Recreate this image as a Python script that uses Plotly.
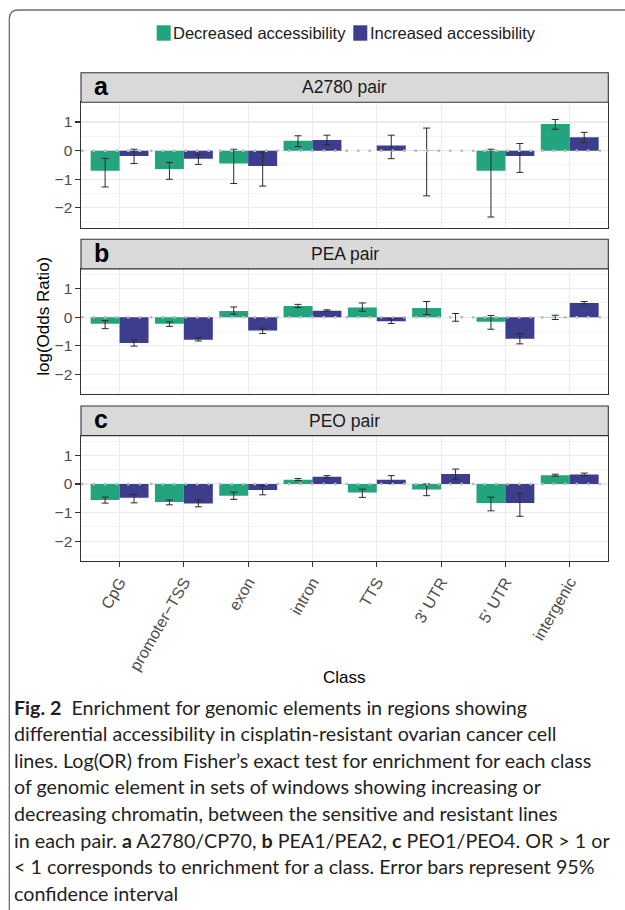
import plotly.graph_objects as go

# ---------------- data ----------------
categories = ["CpG", "promoter-TSS", "exon", "intron", "TTS", "3' UTR", "5' UTR", "intergenic"]
tick_labels = ["CpG", "promoter\u2212TSS", "exon", "intron", "TTS", "3' UTR", "5' UTR", "intergenic"]
series_names = ["Decreased accessibility", "Increased accessibility"]
panel_titles = ["A2780 pair", "PEA pair", "PEO pair"]
panel_letters = ["a", "b", "c"]

a2780_dec = [-0.70, -0.64, -0.45, 0.35, None, -0.01, -0.70, 0.93]
a2780_dec_lo = [-1.27, -1.00, -1.15, 0.14, None, -1.58, -2.32, 0.75]
a2780_dec_hi = [-0.27, -0.41, 0.05, 0.52, None, 0.79, 0.05, 1.09]
a2780_inc = [-0.19, -0.28, -0.54, 0.375, 0.18, None, -0.19, 0.47]
a2780_inc_lo = [-0.45, -0.48, -1.24, 0.21, -0.28, None, -0.76, 0.28]
a2780_inc_hi = [0.05, -0.13, -0.05, 0.54, 0.54, None, 0.25, 0.64]

pea_dec = [-0.23, -0.23, 0.22, 0.39, 0.34, 0.32, -0.16, -0.01]
pea_dec_lo = [-0.40, -0.32, 0.11, 0.34, 0.21, 0.09, -0.42, -0.08]
pea_dec_hi = [-0.12, -0.16, 0.36, 0.45, 0.50, 0.55, 0.06, 0.07]
pea_inc = [-0.90, -0.79, -0.46, 0.23, -0.14, 0.0, -0.75, 0.50]
pea_inc_lo = [-1.01, -0.83, -0.57, 0.21, -0.22, -0.14, -0.93, 0.47]
pea_inc_hi = [-0.79, -0.72, -0.38, 0.26, -0.05, 0.13, -0.57, 0.55]

peo_dec = [-0.56, -0.63, -0.41, 0.15, -0.30, -0.19, -0.67, 0.30]
peo_dec_lo = [-0.67, -0.73, -0.54, 0.12, -0.47, -0.41, -0.94, 0.27]
peo_dec_hi = [-0.46, -0.56, -0.29, 0.19, -0.18, 0.00, -0.46, 0.34]
peo_inc = [-0.48, -0.68, -0.21, 0.25, 0.15, 0.35, -0.67, 0.33]
peo_inc_lo = [-0.66, -0.80, -0.38, 0.21, 0.01, 0.16, -1.13, 0.29]
peo_inc_hi = [-0.36, -0.56, -0.07, 0.29, 0.29, 0.52, -0.33, 0.38]

y_tick_vals = [-2, -1, 0, 1]
y_minor_vals = [-2.5, -1.5, -0.5, 0.5, 1.5]

caption_lines = [
    "<b>Fig. 2</b>\u00a0\u00a0Enrichment for genomic elements in regions showing",
    "differential accessibility in cisplatin-resistant ovarian cancer cell",
    "lines. Log(OR) from Fisher\u2019s exact test for enrichment for each class",
    "of genomic element in sets of windows showing increasing or",
    "decreasing chromatin, between the sensitive and resistant lines",
    "in each pair. <b>a</b> A2780/CP70, <b>b</b> PEA1/PEA2, <b>c</b> PEO1/PEO4. OR &gt; 1 or",
    "&lt; 1 corresponds to enrichment for a class. Error bars represent 95%",
    "confidence interval",
]

panels = [
    (a2780_dec, a2780_dec_lo, a2780_dec_hi, a2780_inc, a2780_inc_lo, a2780_inc_hi),
    (pea_dec, pea_dec_lo, pea_dec_hi, pea_inc, pea_inc_lo, pea_inc_hi),
    (peo_dec, peo_dec_lo, peo_dec_hi, peo_inc, peo_inc_lo, peo_inc_hi),
]

# ---------------- styling / layout helpers ----------------
W, H = 625, 910
GREEN = "#23a47f"
PURPLE = "#3c3d8c"
FONT = "Liberation Sans, Arial, sans-serif"
CAP_FONT = "Lato, Noto Sans, sans-serif"


def px(p):
    return p / W


def py(p):
    return 1 - p / H


X_L, X_R = 81.0, 608.3
strip_tops = [72.7, 239.3, 406.0]
STRIP_H = 29.6
PLOT_H = 125.3
Y_RANGE = [-2.69, 1.69]


def err(v, lo, hi):
    plus = [None if a is None else b - a for a, b in zip(v, hi)]
    minus = [None if a is None else a - b for a, b in zip(v, lo)]
    return plus, minus


fig = go.Figure()
shapes = []
annotations = []

for i, (dv, dlo, dhi, iv, ilo, ihi) in enumerate(panels):
    sfx = "" if i == 0 else str(i + 1)
    xa, ya = "x" + sfx, "y" + sfx
    for name, vals, lo, hi, col in [
        (series_names[0], dv, dlo, dhi, GREEN),
        (series_names[1], iv, ilo, ihi, PURPLE),
    ]:
        plus, minus = err(vals, lo, hi)
        fig.add_trace(go.Bar(
            x=categories, y=vals, name=name, marker=dict(color=col, line=dict(width=0)),
            error_y=dict(type="data", symmetric=False, array=plus, arrayminus=minus,
                         color="#2b2b2b", thickness=1, width=3.5),
            xaxis=xa, yaxis=ya, showlegend=False, offsetgroup=name,
        ))

    top = strip_tops[i] + STRIP_H
    bot = top + PLOT_H
    last = i == 2
    fig.update_layout(**{
        ("xaxis" + sfx): dict(
            domain=[px(X_L), px(X_R)], anchor=ya, type="category",
            categoryorder="array", categoryarray=categories,
            range=[-0.6, 7.6], showgrid=True, gridcolor="#ebebeb", gridwidth=1.1,
            showline=True, linecolor="#333333", linewidth=1.1, mirror=True,
            ticks="outside" if last else "", ticklen=4.5, tickcolor="#333333",
            tickwidth=1.1, showticklabels=last, tickvals=categories,
            ticktext=tick_labels, tickangle=-60,
            tickfont=dict(family=FONT, size=16, color="#4d4d4d"),
            zeroline=False, fixedrange=True,
            matches=None if i == 0 else "x",
        ),
        ("yaxis" + sfx): dict(
            domain=[py(bot), py(top)], anchor=xa, range=Y_RANGE,
            tickvals=y_tick_vals, showgrid=True, gridcolor="#ebebeb", gridwidth=1.1,
            minor=dict(tickvals=y_minor_vals, showgrid=True, gridcolor="#f1f1f1",
                       gridwidth=0.8, ticks=""),
            showline=True, linecolor="#333333", linewidth=1.1, mirror=True,
            ticks="outside", ticklen=4.5, tickcolor="#333333", tickwidth=1.1,
            tickfont=dict(family=FONT, size=15.5, color="#4d4d4d"),
            zeroline=False, fixedrange=True,
        ),
    })

    # strip
    shapes.append(dict(type="rect", xref="paper", yref="paper",
                       x0=px(X_L), x1=px(X_R), y0=py(top), y1=py(strip_tops[i]),
                       fillcolor="#d9d9d9", line=dict(color="#333333", width=1.1),
                       layer="above"))
    annotations.append(dict(xref="paper", yref="paper", x=px((X_L + X_R) / 2),
                            y=py(strip_tops[i] + STRIP_H / 2), text=panel_titles[i],
                            showarrow=False, xanchor="center", yanchor="middle",
                            font=dict(family=FONT, size=17.5, color="#1a1a1a")))
    annotations.append(dict(xref="paper", yref="paper", x=px(92),
                            y=py(strip_tops[i] + STRIP_H / 2 - 1.5), text="<b>%s</b>" % panel_letters[i],
                            showarrow=False, xanchor="left", yanchor="middle",
                            font=dict(family=FONT, size=25, color="#000000")))
    # dotted zero line
    shapes.append(dict(type="line", xref="paper", yref=ya, x0=px(X_L), x1=px(X_R),
                       y0=0, y1=0, line=dict(color="#bdbdbd", width=2.5, dash="2.5px,9px"),
                       layer="above"))

# legend (manual)
leg = [(156.7, series_names[0], GREEN), (353.3, series_names[1], PURPLE)]
for x0, name, col in leg:
    shapes.append(dict(type="rect", xref="paper", yref="paper",
                       x0=px(x0), x1=px(x0 + 14), y0=py(40.7), y1=py(25.3),
                       fillcolor=col, line=dict(width=0)))
    annotations.append(dict(xref="paper", yref="paper", x=px(x0 + 14.5), y=py(33.5),
                            text=name, showarrow=False, xanchor="left", yanchor="middle",
                            font=dict(family=FONT, size=16.5, color="#1a1a1a")))

# axis titles
annotations.append(dict(xref="paper", yref="paper", x=px(44), y=py(316.8),
                        text="log(Odds Ratio)", textangle=-90, showarrow=False,
                        xanchor="center", yanchor="middle",
                        font=dict(family=FONT, size=17, color="#000000")))
annotations.append(dict(xref="paper", yref="paper", x=px(344.7), y=py(677),
                        text="Class", showarrow=False, xanchor="center", yanchor="middle",
                        font=dict(family=FONT, size=17, color="#000000")))

# caption
for k, line in enumerate(caption_lines):
    annotations.append(dict(xref="paper", yref="paper", x=px(12), y=py(707 + k * 26.6),
                            text=line, showarrow=False, xanchor="left", yanchor="middle",
                            align="left", font=dict(family=CAP_FONT, size=19.7, color="#231f20")))

# page frame with rounded corner
r = 9.0
fx, fy = 9.3, 10.0
path = ("M %f,%f L %f,%f Q %f,%f %f,%f L %f,%f" % (
    px(fx), py(H + 5), px(fx), py(fy + r), px(fx), py(fy), px(fx + r), py(fy), px(W + 5), py(fy)))
shapes.append(dict(type="path", xref="paper", yref="paper", path=path,
                   line=dict(color="#6e6e6e", width=1.3)))

fig.update_layout(
    width=W, height=H, autosize=False,
    margin=dict(l=0, r=0, t=0, b=0),
    paper_bgcolor="white", plot_bgcolor="white",
    barmode="group", bargap=0.1, bargroupgap=0,
    showlegend=False, shapes=shapes, annotations=annotations,
    font=dict(family=FONT),
)

fig.write_html(
    "out.html",
    config={"displayModeBar": False, "staticPlot": True},
    post_script="document.body.style.margin='0';document.body.style.overflow='hidden';",
)
